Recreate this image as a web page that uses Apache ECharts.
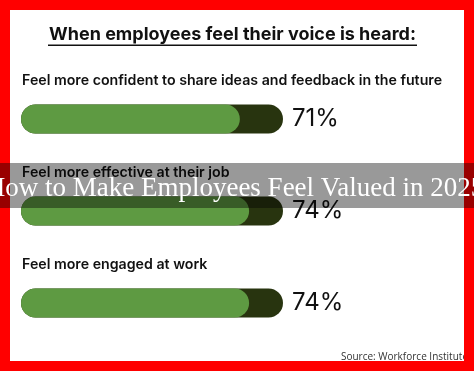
<!DOCTYPE html>
<html>
<head>
<meta charset="utf-8">
<script src="https://cdn.jsdelivr.net/npm/echarts@6/dist/echarts.min.js"></script>
<style>
  html, body { margin: 0; padding: 0; background: #fff; }
  #chart { width: 474px; height: 371px; }
</style>
</head>
<body>
<div id="chart"></div>
<script>
const categories = [
  'Feel more confident to share ideas and feedback in the future',
  'Feel more effective at their job',
  'Feel more engaged at work'
];
const values = [71, 74, 74];
const axisMax = 85;
const titleText = 'When employees feel their voice is heard:';
const sourceText = 'Source: Workforce Institute';
const bannerText = 'How to Make Employees Feel Valued in 2025';

const chart = echarts.init(document.getElementById('chart'), null, { renderer: 'canvas' });
const sans = 'Inter, "Noto Sans", sans-serif';

chart.setOption({
  backgroundColor: '#ffffff',
  animation: false,
  grid: { left: 21, right: 191, top: 73, bottom: 22, containLabel: false },
  xAxis: { type: 'value', min: 0, max: axisMax, show: false },
  yAxis: { type: 'category', data: categories, inverse: true, show: false },
  series: [
    {
      type: 'bar',
      data: values.map(() => axisMax),
      barWidth: 29,
      barGap: '-100%',
      itemStyle: { color: '#28340f', borderRadius: 15 },
      label: {
        show: true,
        position: 'right',
        distance: 9,
        formatter: (p) => values[p.dataIndex] + '%',
        fontFamily: sans,
        fontSize: 24,
        color: '#111111'
      },
      silent: true
    },
    {
      type: 'bar',
      data: values,
      barWidth: 29,
      itemStyle: { color: '#5e9a42', borderRadius: 15 },
      label: {
        show: true,
        position: [1, -31],
        formatter: '{b}',
        fontFamily: sans,
        fontSize: 14.2,
        fontWeight: 600,
        color: '#111111'
      }
    }
  ],
  graphic: [
    {
      type: 'text', z: 10, x: 232.5, y: 35,
      style: { text: titleText, font: '700 18px ' + sans, fill: '#111111', align: 'center', verticalAlign: 'middle' }
    },
    {
      type: 'rect', z: 10,
      shape: { x: 48, y: 44.5, width: 369, height: 1.5 },
      style: { fill: '#111111' }
    },
    {
      type: 'text', z: 10, x: 468, y: 357,
      style: { text: sourceText, font: '10px "Open Sans", sans-serif', fill: '#333333', align: 'right', verticalAlign: 'middle' }
    },
    {
      type: 'rect', z: 20,
      shape: { x: 5, y: 5, width: 464, height: 361 },
      style: { fill: 'none', stroke: '#ff0000', lineWidth: 10 }
    },
    {
      type: 'rect', z: 30,
      shape: { x: 0, y: 163, width: 474, height: 45 },
      style: { fill: 'rgba(0,0,0,0.4)' }
    },
    {
      type: 'text', z: 31,
      x: 235, y: 189,
      style: {
        text: bannerText,
        font: '27px "Liberation Serif", "DejaVu Serif", serif',
        fill: '#ffffff',
        align: 'center',
        verticalAlign: 'middle',
        shadowColor: 'rgba(0,0,0,0.9)',
        shadowBlur: 2,
        shadowOffsetX: 1,
        shadowOffsetY: 1
      }
    }
  ]
});
</script>
</body>
</html>
